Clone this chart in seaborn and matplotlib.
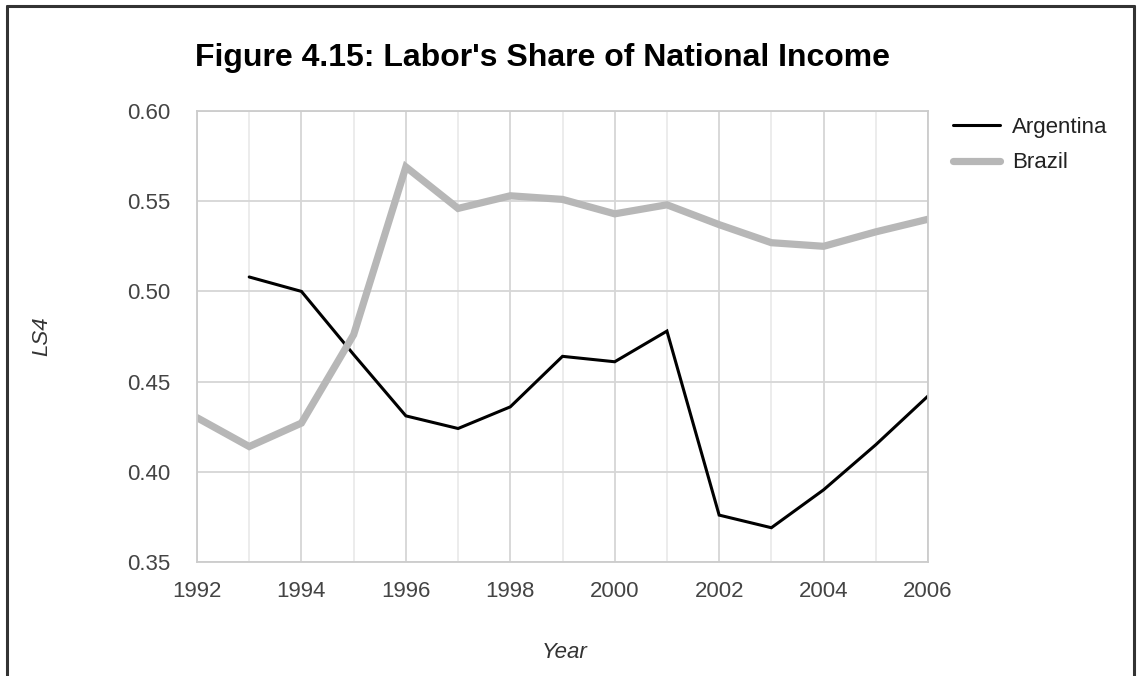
import matplotlib
matplotlib.use("Agg")
import matplotlib.pyplot as plt
import numpy as np
import pandas as pd
import seaborn as sns
from matplotlib.lines import Line2D
from matplotlib.ticker import MultipleLocator

years = [1992, 1993, 1994, 1995, 1996, 1997, 1998, 1999,
         2000, 2001, 2002, 2003, 2004, 2005, 2006]
argentina = [np.nan, 0.508, 0.500, 0.465, 0.431, 0.424, 0.436, 0.464,
             0.461, 0.478, 0.376, 0.369, 0.390, 0.415, 0.442]
brazil = [0.430, 0.414, 0.427, 0.476, 0.569, 0.546, 0.553, 0.551,
          0.543, 0.548, 0.537, 0.527, 0.525, 0.533, 0.540]
series_names = ["Argentina", "Brazil"]
series_colors = ["#000000", "#b7b7b7"]
series_widths = [2.2, 5.2]

sns.set_style("white")
plt.rcParams["font.family"] = ["Liberation Sans", "DejaVu Sans"]

df = pd.DataFrame({"Year": years, "Argentina": argentina, "Brazil": brazil})

fig = plt.figure(figsize=(11.39, 6.76), dpi=100)
ax = fig.add_axes([197 / 1139, 1 - 562 / 676, (928 - 197) / 1139, (562 - 111) / 676])

for name, col, lw in zip(series_names, series_colors, series_widths):
    sns.lineplot(data=df, x="Year", y=name, color=col, linewidth=lw, ax=ax,
                 legend=False, solid_joinstyle="miter")

ax.set_xlim(1992, 2006)
ax.set_ylim(0.35, 0.60)
ax.xaxis.set_major_locator(MultipleLocator(2))
ax.xaxis.set_minor_locator(MultipleLocator(1))
ax.yaxis.set_major_locator(MultipleLocator(0.05))
ax.yaxis.set_major_formatter(matplotlib.ticker.FormatStrFormatter("%.2f"))
ax.grid(True, which="major", color="#d6d6d6", linewidth=1.3, zorder=0)
ax.grid(True, which="minor", axis="x", color="#ebebeb", linewidth=1.3, zorder=0)
ax.set_axisbelow(True)
for s in ax.spines.values():
    s.set_color("#cccccc")
    s.set_linewidth(1.3)
ax.tick_params(axis="both", which="both", length=0, labelsize=16, labelcolor="#444444")
ax.tick_params(axis="y", pad=19)
ax.tick_params(axis="x", pad=14)
ax.set_xlabel("")
ax.set_ylabel("")

fig.text(42 / 1139, 1 - 336 / 676, "LS4", rotation=90, style="italic",
         fontsize=16, color="#333333", ha="center", va="center")
fig.text(565 / 1139, 1 - 652 / 676, "Year", style="italic",
         fontsize=16, color="#333333", ha="center", va="center")
fig.text(195 / 1139, 1 - 58 / 676, "Figure 4.15: Labor's Share of National Income",
         fontsize=23, fontweight="bold", color="#000000", ha="left", va="center")

handles = [Line2D([], [], color=c, linewidth=lw) for c, lw in zip(series_colors, series_widths)]
fig.legend(handles, series_names, loc="upper left", bbox_to_anchor=(933 / 1139, 1 - 97 / 676),
           frameon=False, fontsize=16, labelcolor="#222222", handlelength=2.1,
           handletextpad=0.55, labelspacing=0.65)

# outer frame (left, top, right)
frame_kw = dict(color="#333333", linewidth=2.2, transform=fig.transFigure)
fig.add_artist(Line2D([6.5 / 1139, 6.5 / 1139], [0, 1 - 6 / 676], **frame_kw))
fig.add_artist(Line2D([6.5 / 1139, 1134 / 1139], [1 - 6 / 676, 1 - 6 / 676], **frame_kw))
fig.add_artist(Line2D([1134 / 1139, 1134 / 1139], [0, 1 - 6 / 676], **frame_kw))

fig.savefig("out.png", dpi=100)
plt.close(fig)
